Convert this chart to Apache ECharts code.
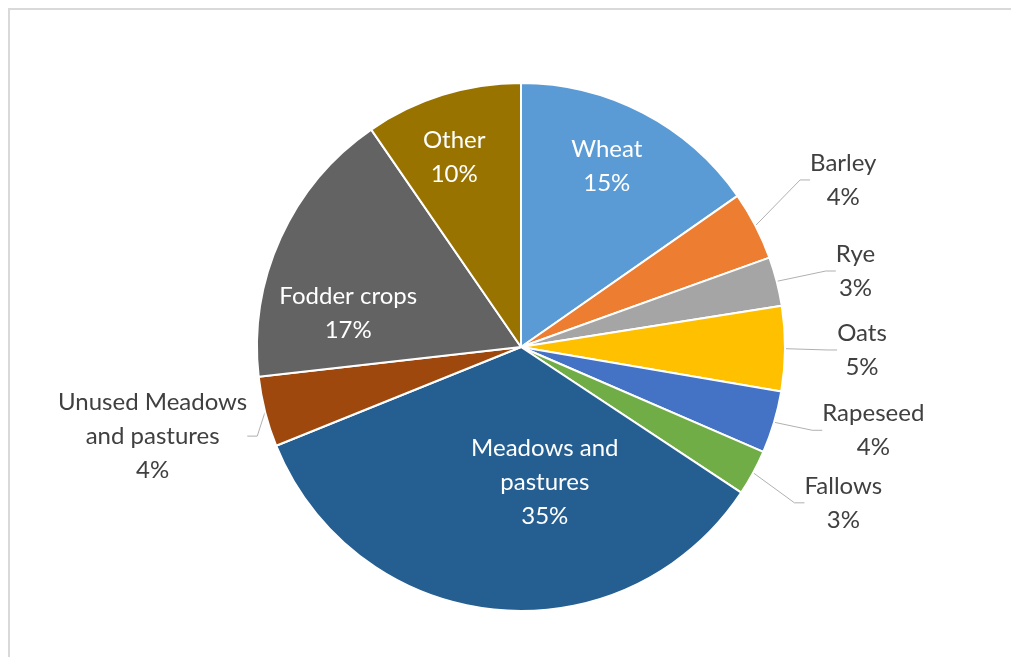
<!DOCTYPE html>
<html>
<head>
<meta charset="utf-8">
<script src="https://cdn.jsdelivr.net/npm/echarts@6/dist/echarts.min.js"></script>
<style>
  html, body { margin: 0; padding: 0; background: #fff; }
  #chart { width: 1011px; height: 657px; }
</style>
</head>
<body>
<div id="chart"></div>
<script>
// land use shares, clockwise from 12 o'clock
var names = ['Wheat', 'Barley', 'Rye', 'Oats', 'Rapeseed', 'Fallows',
  'Meadows and\npastures', 'Unused Meadows\nand pastures', 'Fodder crops', 'Other'];
var shares = [15.3, 4.2, 3.0, 5.2, 3.8, 2.8, 34.6, 4.3, 17.2, 9.6];
var colors = ['#5b9bd5', '#ed7d31', '#a5a5a5', '#ffc000', '#4472c4', '#70ad47',
  '#255e91', '#9e480e', '#636363', '#997300'];
var inside = [true, false, false, false, false, false, true, false, true, true];

var CX = 521, CY = 347, R = 264;
// label anchor: [angle from top, clockwise in degrees, distance from centre]
var labelSpot = [[25.4, 200], [62.6, 363], [77.2, 343], [90.5, 341], [103.3, 362],
  [115.8, 358], [170, 137], [256.4, 379], [281, 176], [340.6, 201]];

var chart = echarts.init(document.getElementById('chart'));

var data = names.map(function (n, i) {
  return {
    name: n,
    value: shares[i],
    itemStyle: { color: colors[i] },
    label: inside[i] ? { position: 'inside', color: '#ffffff' } : { position: 'outside', color: '#404040' },
    labelLine: { show: !inside[i] }
  };
});

chart.setOption({
  animation: false,
  graphic: [{
    type: 'rect',
    shape: { x: 9, y: 9, width: 1200, height: 1000 },
    style: { fill: 'none', stroke: '#d9d9d9', lineWidth: 2 },
    silent: true
  }],
  series: [{
    type: 'pie',
    center: [CX, CY],
    radius: R,
    startAngle: 90,
    data: data,
    itemStyle: { borderColor: '#ffffff', borderWidth: 2 },
    label: {
      fontFamily: 'Lato',
      fontSize: 24,
      lineHeight: 34,
      formatter: function (p) { return p.name + '\n' + Math.round(p.percent) + '%'; }
    },
    labelLine: { length: 10, length2: 10, lineStyle: { color: '#b0b0b0', width: 1 } },
    labelLayout: function (p) {
      var s = labelSpot[p.dataIndex];
      var a = s[0] * Math.PI / 180;
      return {
        x: CX + s[1] * Math.sin(a),
        y: CY - s[1] * Math.cos(a),
        align: 'center',
        verticalAlign: 'middle'
      };
    }
  }]
});
</script>
</body>
</html>
